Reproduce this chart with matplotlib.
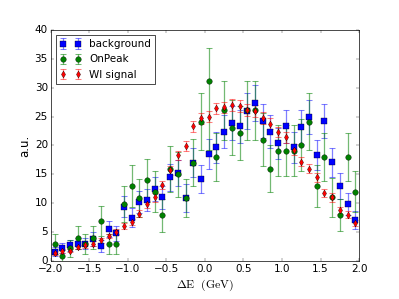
import numpy as np
import matplotlib
matplotlib.use('Agg')
import matplotlib.pyplot as plt

plt.style.use('classic')

# bin centres in GeV
dE = np.arange(-1.95, 2.0, 0.1)

background = [1.6, 2.3, 2.7, 3.0, 3.0, 3.8, 2.6, 5.5, 4.8, 9.4,
              7.5, 10.2, 10.5, 12.5, 11.0, 14.5, 15.2, 10.9, 17.0, 14.2,
              18.5, 19.7, 22.4, 23.9, 23.3, 26.0, 27.4, 24.2, 22.4, 20.4,
              23.3, 19.7, 23.2, 24.9, 18.4, 24.2, 17.1, 13.0, 9.9, 7.1]
background_err = [0.8, 0.9, 1.0, 1.0, 1.0, 1.2, 1.0, 1.4, 1.3, 1.8,
                  1.6, 1.9, 1.9, 2.1, 2.0, 2.3, 2.3, 2.4, 2.5, 2.4,
                  2.6, 2.7, 2.8, 2.9, 2.9, 3.1, 3.1, 2.9, 2.8, 2.7,
                  2.9, 2.7, 2.9, 3.0, 2.6, 2.9, 2.5, 2.2, 1.9, 1.6]

onpeak = [3.0, 0.9, 2.2, 4.0, 3.0, 4.0, 6.9, 3.0, 3.0, 9.9,
          13.0, 10.9, 14.0, 12.0, 7.9, 15.9, 15.0, 10.9, 17.0, 24.1,
          31.1, 18.0, 26.1, 23.1, 22.1, 26.1, 26.1, 21.0, 16.0, 19.1,
          19.1, 19.1, 20.0, 24.1, 13.0, 18.0, 11.0, 8.0, 18.0, 12.0]
onpeak_err_lo = [1.7, 1.0, 1.5, 2.0, 1.7, 2.0, 2.6, 1.7, 1.7, 3.1,
                 3.6, 3.3, 3.7, 3.5, 2.8, 4.0, 3.9, 3.3, 4.1, 4.9,
                 11.8, 4.2, 5.1, 4.8, 4.7, 5.1, 5.1, 4.6, 4.0, 4.4,
                 4.4, 4.4, 4.5, 4.9, 3.6, 4.2, 3.3, 2.8, 4.2, 3.5]
onpeak_err_hi = [1.7, 1.0, 1.5, 2.0, 1.7, 2.0, 2.6, 1.7, 1.7, 3.1,
                 3.6, 3.3, 3.7, 3.5, 2.8, 4.0, 3.9, 3.3, 4.1, 4.9,
                 5.7, 4.2, 5.1, 4.8, 4.7, 5.1, 5.1, 4.6, 4.0, 4.4,
                 4.4, 4.4, 4.5, 4.9, 3.6, 4.2, 3.3, 2.8, 4.2, 3.5]

wi_signal = [1.4, 1.7, 1.8, 2.4, 2.7, 3.0, 3.6, 4.3, 5.0, 6.1,
             6.8, 8.2, 9.8, 11.0, 13.1, 15.7, 18.3, 19.9, 23.3, 24.7,
             25.0, 26.4, 26.6, 27.0, 26.8, 26.1, 26.0, 24.8, 23.8, 22.3,
             21.4, 19.3, 17.2, 16.0, 14.5, 11.8, 11.0, 8.8, 8.0, 6.6]
wi_err = [0.3, 0.3, 0.3, 0.3, 0.4, 0.4, 0.4, 0.4, 0.5, 0.5,
          0.5, 0.6, 0.6, 0.7, 0.7, 0.8, 0.8, 0.9, 0.9, 1.0,
          1.0, 1.0, 1.0, 1.0, 1.0, 1.0, 1.0, 1.0, 1.0, 0.9,
          0.9, 0.9, 0.8, 0.8, 0.8, 0.7, 0.7, 0.6, 0.6, 0.5]

fig = plt.figure(figsize=(7.98, 5.98), dpi=50, facecolor='white')
ax = fig.add_subplot(111)
fig.subplots_adjust(left=0.127, right=0.9, top=0.9, bottom=0.127)

ax.errorbar(dE, background, yerr=background_err, fmt='s', color='b',
            ecolor=(0, 0, 1, 0.5), markersize=8.5, capsize=4.5, elinewidth=1.8,
            capthick=1.5, label='background')
ax.errorbar(dE, onpeak, yerr=[onpeak_err_lo, onpeak_err_hi], fmt='o', color='g',
            ecolor=(0, 0.5, 0, 0.55), markersize=8, capsize=4.5, elinewidth=1.8,
            capthick=1.5, label='OnPeak')
ax.errorbar(dE, wi_signal, yerr=wi_err, fmt='d', color='r',
            ecolor=(1, 0, 0, 0.5), markersize=7, capsize=4.5, elinewidth=1.8,
            capthick=1.5, label='WI signal')

ax.set_xlim(-2.0, 2.0)
ax.set_ylim(0, 40)
ax.set_xticks(np.arange(-2.0, 2.01, 0.5))
ax.tick_params(labelsize=15)
ax.set_xlabel(r'$\Delta\mathrm{E}\ \ \mathrm{(GeV)}$', fontsize=17)
ax.set_ylabel('a.u.', fontsize=17)
ax.legend(loc='upper left', numpoints=2, fontsize=15)

fig.savefig('out.png', dpi=50, facecolor='white')
